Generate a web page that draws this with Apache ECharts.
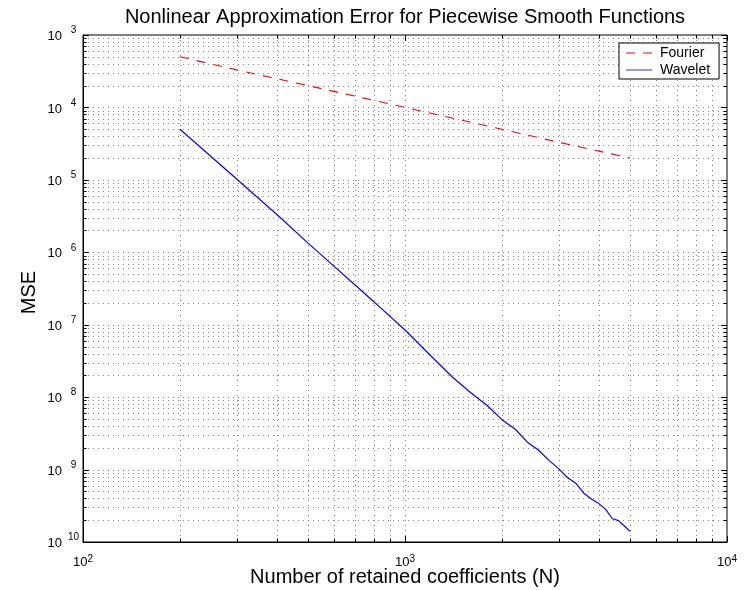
<!DOCTYPE html>
<html>
<head>
<meta charset="utf-8">
<script src="https://cdn.jsdelivr.net/npm/echarts@6/dist/echarts.min.js"></script>
<style>
  html, body { margin: 0; padding: 0; background: #fff; }
  #chart { width: 749px; height: 590px; }
</style>
</head>
<body>
<div id="chart"></div>
<script>
// Retained coefficient counts and the resulting mean squared errors
const fourierN = [200, 300, 500, 1000, 2000, 3000, 5000];
const fourierMSE = [5.0e-4, 3.3e-4, 2.0e-4, 1.0e-4, 5.0e-5, 3.3e-5, 2.0e-5];

const waveletN = [200, 300, 400, 500, 600, 700, 800, 1000, 1200, 1400, 1600, 1800, 2000,
  2200, 2400, 2600, 2800, 3000, 3200, 3400, 3600, 3800, 4000, 4200, 4400, 4600, 4800, 5000];
const waveletMSE = [5.0e-5, 1.03e-5, 3.33e-6, 1.34e-6, 6.5e-7, 3.53e-7, 2.08e-7, 8.45e-8,
  3.76e-8, 1.91e-8, 1.15e-8, 7.67e-9, 4.89e-9, 3.6e-9, 2.39e-9, 1.85e-9, 1.34e-9, 1.03e-9,
  7.7e-10, 6.4e-10, 4.66e-10, 3.89e-10, 3.39e-10, 2.82e-10, 2.11e-10, 1.97e-10, 1.66e-10, 1.40e-10];

// Axis decades (exponents) and the mantissas used for grid lines / ticks
const xDecades = [2, 3, 4];
const yDecades = [-10, -9, -8, -7, -6, -5, -4, -3];
const mantissas = [1, 2, 3, 4, 5, 6, 7, 8, 9];

const titleText = 'Nonlinear Approximation Error for Piecewise Smooth Functions';
const xName = 'Number of retained coefficients (N)';
const yName = 'MSE';

const FONT = '"Liberation Sans", Helvetica, Arial, sans-serif';

function gridValues(decades) {
  const out = [];
  const lo = decades[0], hi = decades[decades.length - 1];
  for (const e of decades) {
    for (const m of mantissas) {
      if (e === hi && m > 1) continue;
      out.push({ v: m * Math.pow(10, e), major: m === 1, edge: (m === 1 && (e === lo || e === hi)) });
    }
  }
  return out;
}
const xGrid = gridValues(xDecades);
const yGrid = gridValues(yDecades);

const MAJOR_LEN = 6, MINOR_LEN = 3.5;
const gridStyle = { stroke: '#333', lineWidth: 1, lineDash: [1, 4], opacity: 0.6 };
const tickStyle = { stroke: '#000', lineWidth: 1 };

function renderGrid(isX) {
  return function (params, api) {
    const cs = params.coordSys;
    const p = api.coord([api.value(0), api.value(1)]);
    const major = api.value(2) === 1;
    const edge = api.value(3) === 1;
    const L = major ? MAJOR_LEN : MINOR_LEN;
    const children = [];
    const left = cs.x, right = cs.x + cs.width, top = cs.y, bottom = cs.y + cs.height;
    if (isX) {
      const x = Math.round(p[0]) + 0.5;
      if (!edge) {
        children.push({ type: 'line', shape: { x1: x, y1: top, x2: x, y2: bottom }, style: gridStyle });
      }
      children.push({ type: 'line', shape: { x1: x, y1: bottom, x2: x, y2: bottom - L }, style: tickStyle });
      children.push({ type: 'line', shape: { x1: x, y1: top, x2: x, y2: top + L }, style: tickStyle });
    } else {
      const y = Math.round(p[1]) + 0.5;
      if (!edge) {
        children.push({ type: 'line', shape: { x1: left, y1: y, x2: right, y2: y }, style: gridStyle });
      }
      children.push({ type: 'line', shape: { x1: left, y1: y, x2: left + L, y2: y }, style: tickStyle });
      children.push({ type: 'line', shape: { x1: right, y1: y, x2: right - L, y2: y }, style: tickStyle });
    }
    return { type: 'group', children: children };
  };
}

function expOf(value) { return Math.round(Math.log10(value)); }

// Legend swatches: a dashed stroke for Fourier, a solid one for Wavelet
const dashedIcon = 'path://M0,0H9V1.2H0Z M17,0H26V1.2H17Z';
const solidIcon = 'path://M0,0H26V1.2H0Z';

const chart = echarts.init(document.getElementById('chart'), null, { renderer: 'canvas' });

chart.setOption({
  animation: false,
  backgroundColor: '#fff',
  textStyle: { fontFamily: FONT },
  grid: {
    left: 83, right: 22, top: 35, bottom: 48,
    outerBoundsMode: 'none', containLabel: false,
    show: true, borderColor: '#000', borderWidth: 1, backgroundColor: '#fff'
  },
  graphic: [{
    type: 'text', x: 405, y: 17,
    style: { text: titleText, align: 'center', verticalAlign: 'middle', font: '20px ' + FONT, fill: '#000' }
  }],
  legend: {
    data: [
      { name: 'Fourier', icon: dashedIcon, itemStyle: { color: '#ff0000' } },
      { name: 'Wavelet', icon: solidIcon, itemStyle: { color: '#4d4dff' } }
    ],
    orient: 'vertical',
    left: 619, top: 43,
    backgroundColor: '#fff', borderColor: '#000', borderWidth: 1,
    padding: [3, 9, 2, 7],
    itemGap: 3, itemWidth: 26, itemHeight: 14,
    textStyle: { fontSize: 14, color: '#000', fontFamily: FONT, padding: [0, 0, 0, 3] }
  },
  xAxis: {
    type: 'log', logBase: 10, min: 100, max: 10000,
    name: xName, nameLocation: 'middle', nameGap: 25, nameMoveOverlap: false,
    nameTextStyle: { fontSize: 20, color: '#000', fontFamily: FONT },
    axisLine: { show: true, lineStyle: { color: '#000', width: 1 } },
    axisTick: { show: false }, splitLine: { show: false }, minorTick: { show: false },
    axisLabel: {
      margin: 12, color: '#000',
      formatter: function (v) { return '{b|10}{s|' + expOf(v) + '}'; },
      rich: {
        b: { fontSize: 13, lineHeight: 16, fontFamily: FONT, color: '#000' },
        s: { fontSize: 10, lineHeight: 8, verticalAlign: 'top', fontFamily: FONT, color: '#000' }
      }
    }
  },
  yAxis: {
    type: 'log', logBase: 10, min: 1e-10, max: 1e-3,
    name: yName, nameLocation: 'middle', nameGap: 44, nameRotate: 90, nameMoveOverlap: false,
    nameTextStyle: { fontSize: 20, color: '#000', fontFamily: FONT, padding: [0, 8, 0, 0] },
    axisLine: { show: true, lineStyle: { color: '#000', width: 1 } },
    axisTick: { show: false }, splitLine: { show: false }, minorTick: { show: false },
    axisLabel: {
      margin: 3, color: '#000',
      formatter: function (v) { return '{b|10}{s|' + Math.abs(expOf(v)) + '}'; },
      rich: {
        b: { fontSize: 13, lineHeight: 26, padding: [3, 0, 0, 0], fontFamily: FONT, color: '#000' },
        s: { fontSize: 10, lineHeight: 9, verticalAlign: 'top', align: 'left', width: 13, padding: [3.5, 0, 0, 5], fontFamily: FONT, color: '#000' }
      }
    }
  },
  series: [
    {
      type: 'custom', name: 'xgrid', silent: true, z: 1,
      renderItem: renderGrid(true),
      data: xGrid.map(g => [g.v, 1e-6, g.major ? 1 : 0, g.edge ? 1 : 0])
    },
    {
      type: 'custom', name: 'ygrid', silent: true, z: 1,
      renderItem: renderGrid(false),
      data: yGrid.map(g => [1000, g.v, g.major ? 1 : 0, g.edge ? 1 : 0])
    },
    {
      type: 'line', name: 'Fourier', z: 3,
      data: fourierN.map((n, i) => [n, fourierMSE[i]]),
      showSymbol: false, symbol: 'none',
      lineStyle: { color: '#ff0000', width: 1.1, type: [9, 8] },
      itemStyle: { color: '#ff0000' }
    },
    {
      type: 'line', name: 'Wavelet', z: 3,
      data: waveletN.map((n, i) => [n, waveletMSE[i]]),
      showSymbol: false, symbol: 'none',
      lineStyle: { color: '#0000ff', width: 1.2 },
      itemStyle: { color: '#0000ff' }
    }
  ]
});
</script>
</body>
</html>
